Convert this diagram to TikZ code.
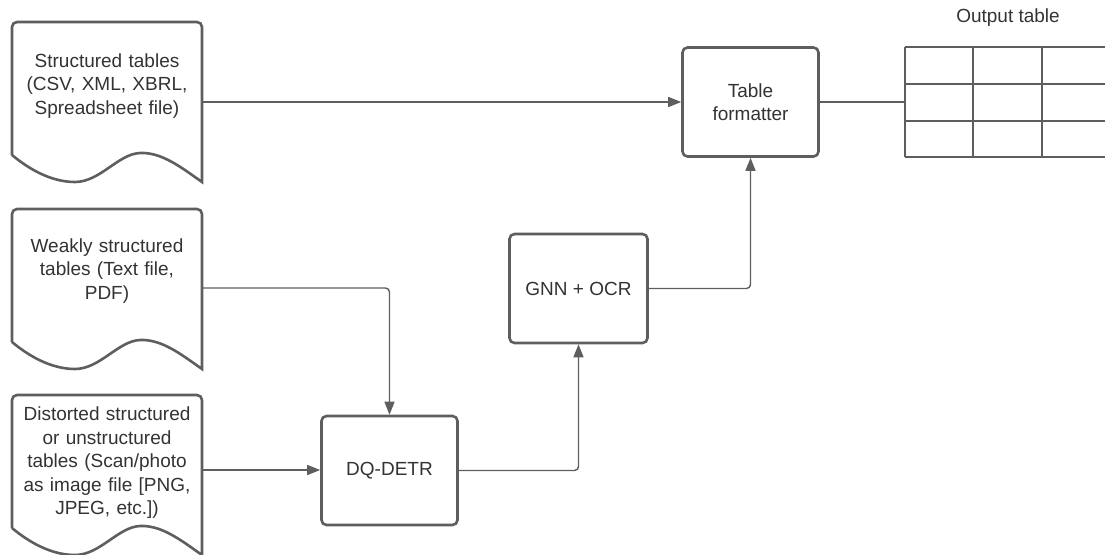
\documentclass[tikz,border=0pt]{standalone}
\usepackage{fontspec}
\setmainfont{Liberation Sans}
\usetikzlibrary{arrows.meta,positioning}
\definecolor{linegray}{HTML}{5E5E5E}
\definecolor{textgray}{HTML}{333333}
\tikzset{
    label text/.style={text=textgray, font=\fontsize{19}{23.5}\selectfont, align=center, inner sep=0pt},
    doc text/.style={label text, text width=190pt},
    procbox/.style={draw=linegray, line width=2.6pt, rounded corners=5pt, fill=white,
        minimum width=136pt, minimum height=109pt, label text},
    docline/.style={draw=linegray, line width=2.6pt, fill=white},
    flow/.style={draw=linegray, line width=1.4pt, rounded corners=4pt},
    arrowflow/.style={flow, -{Triangle[length=13pt,width=10pt]}},
    tablegrid/.style={draw=linegray, line width=2pt}
}
% document shape, top left corner given
\newcommand{\docpath}[2]{
    \path[docline, shift={(#1,#2)}] (0,133) [rounded corners=5pt] -- (0,0) -- (190,0)
        [sharp corners] -- (190,160)
        .. controls (170,146) and (150,130) .. (128,131)
        .. controls (106,132) and (88,160) .. (63,160)
        .. controls (40,160) and (18,148) .. (0,133);
}
\begin{document}
\begin{tikzpicture}[x=1pt, y=-1pt]
    \useasboundingbox (0,0) rectangle (1105,554);

    % inputs
    \docpath{12}{22}
    \docpath{12}{209}
    \docpath{12}{395}
    \node[doc text] (struct) at (107,86) {Structured tables\\(CSV, XML, XBRL,\\Spreadsheet file)};
    \node[doc text] (weak) at (107,271) {Weakly structured\\tables (Text file,\\PDF)};
    \node[doc text] (dist) at (107,463) {Distorted structured\\or unstructured\\tables (Scan/photo\\as image file [PNG,\\JPEG, etc.])};
    \coordinate (struct out) at (202,102);
    \coordinate (weak out) at (202,288);
    \coordinate (dist out) at (202,470);

    % processing
    \node[procbox] (dq) at (389.5,470.5) {DQ-DETR};
    \node[procbox, minimum width=138pt] (gnn) at (578.5,288.5) {GNN + OCR};
    \node[procbox] (tf) at (750.5,102) {Table\\formatter};

    % output table
    \foreach \y in {47,84,121,157}
        \draw[tablegrid] (905,\y) -- (1110,\y);
    \foreach \x in {905,973,1042}
        \draw[tablegrid] (\x,47) -- (\x,157);
    \coordinate (tbl) at (905,102);
    \node[label text] (outlabel) at (1008,18) {Output table};

    % connectors
    \draw[arrowflow] (struct out) -- (tf.west);
    \draw[arrowflow] (weak out) -| (dq.north);
    \draw[arrowflow] (dist out) -- (dq.west |- dist out);
    \draw[arrowflow] (dq.east) -| (gnn.south);
    \draw[arrowflow] (gnn.east) -| (tf.south);
    \draw[flow] (tf.east) -- (tbl);
\end{tikzpicture}
\end{document}
